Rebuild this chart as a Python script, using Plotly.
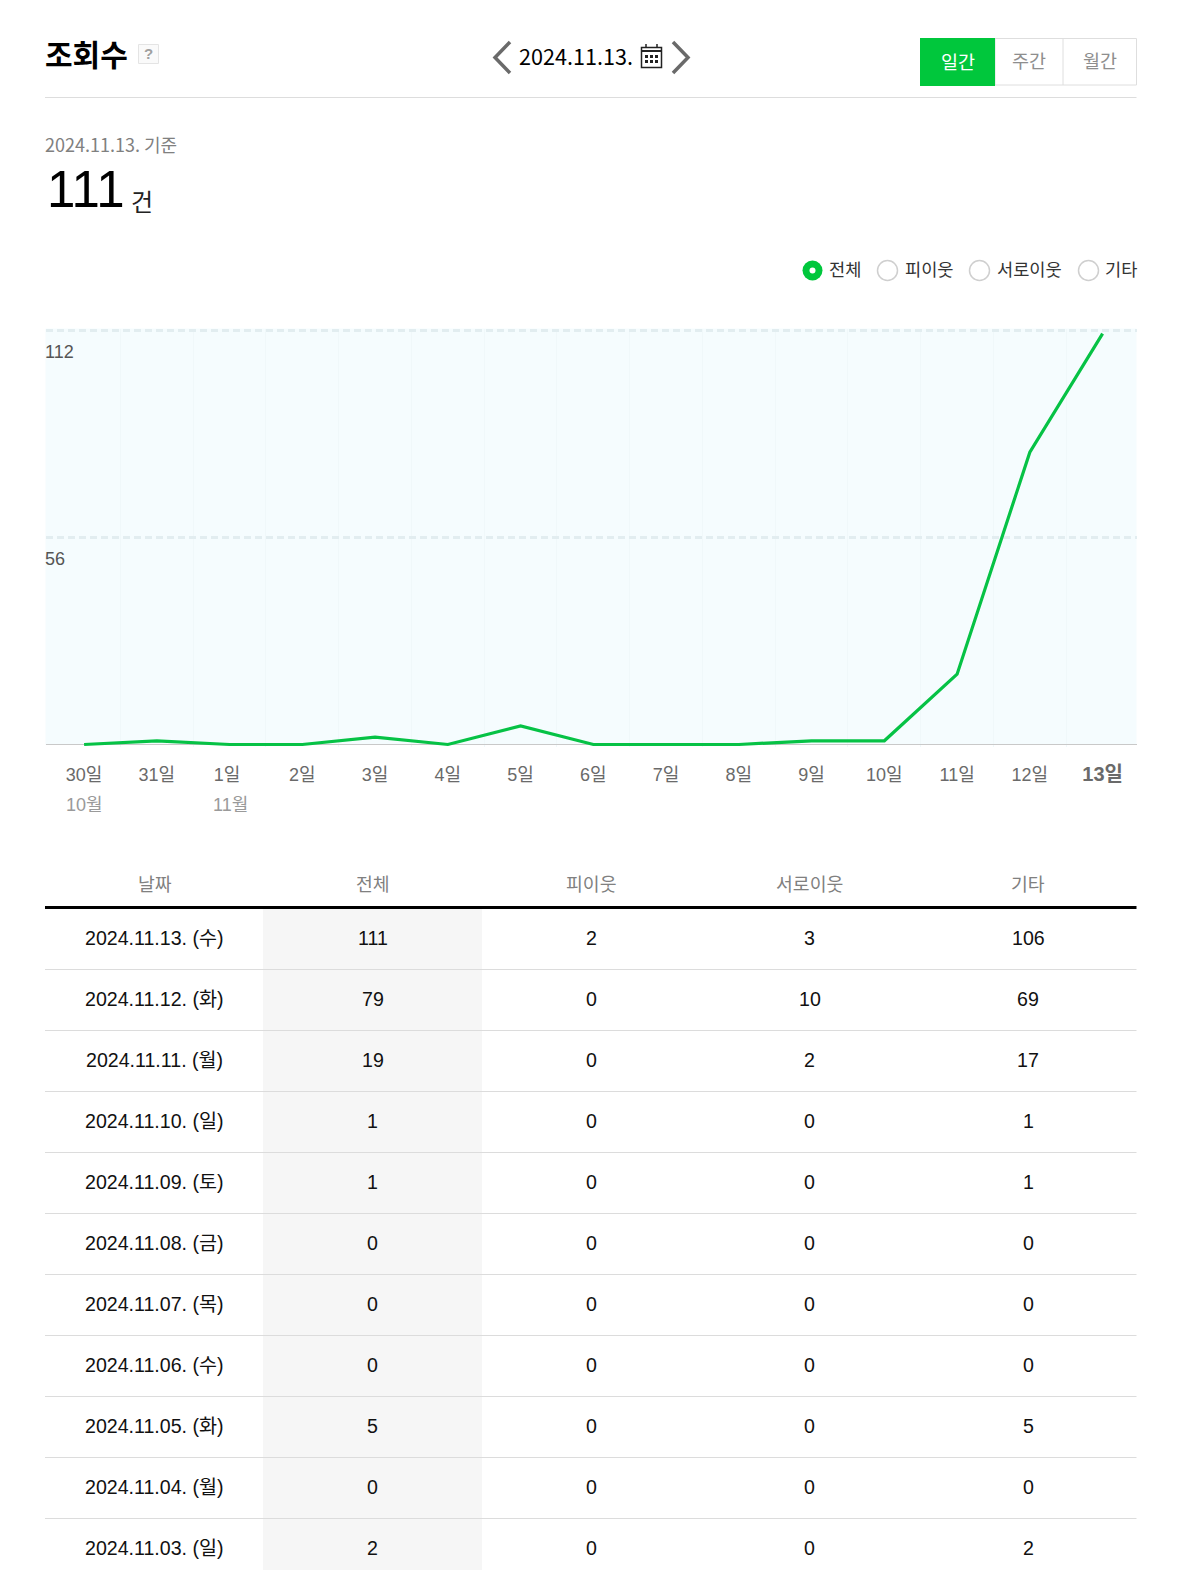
import plotly.graph_objects as go

W, H = 1189, 1570
SANS = "Liberation Sans, Noto Sans CJK KR, sans-serif"
CJK = "Noto Sans CJK KR, Liberation Sans, sans-serif"
GREEN = "#00c73c"

# ---- chart data
day_labels = ["30일", "31일", "1일\u00a0", "2일", "3일", "4일", "5일", "6일", "7일", "8일", "9일", "10일", "11일", "12일",
              "<span style='font-size:20px'><b>13일</b></span>"]
month_labels = {0: "10월", 2: "11월"}
views = [0, 1, 0, 0, 2, 0, 5, 0, 0, 0, 1, 1, 19, 79, 111]
y_ticks = [56, 112]

# ---- table data
table_header = ["날짜", "전체", "피이웃", "서로이웃", "기타"]
table_dates = ["2024.11.13. (수)", "2024.11.12. (화)", "2024.11.11. (월)", "2024.11.10. (일)", "2024.11.09. (토)",
               "2024.11.08. (금)", "2024.11.07. (목)", "2024.11.06. (수)", "2024.11.05. (화)", "2024.11.04. (월)", "2024.11.03. (일)"]
table_total = [111, 79, 19, 1, 1, 0, 0, 0, 5, 0, 2]
table_neighbor = [2, 0, 0, 0, 0, 0, 0, 0, 0, 0, 0]
table_mutual = [3, 10, 2, 0, 0, 0, 0, 0, 0, 0, 0]
table_other = [106, 69, 17, 1, 1, 0, 0, 0, 5, 0, 2]

def X(x): return x / W
def Y(y): return 1 - y / H

annots, shapes = [], []

def text(x, y, s, size, color="#000", family=CJK, anchor="center"):
    annots.append(dict(x=X(x), y=Y(y), xref="paper", yref="paper", text=s, showarrow=False,
                       xanchor=anchor, yanchor="middle", font=dict(size=size, color=color, family=family)))

def line(x0, y0, x1, y1, color, width):
    shapes.append(dict(type="line", xref="paper", yref="paper", x0=X(x0), y0=Y(y0), x1=X(x1), y1=Y(y1),
                       line=dict(color=color, width=width)))

def rect(x0, y0, x1, y1, fill=None, border=None, width=1, layer="above"):
    shapes.append(dict(type="rect", xref="paper", yref="paper", x0=X(x0), y0=Y(y0), x1=X(x1), y1=Y(y1),
                       fillcolor=fill or "rgba(0,0,0,0)", layer=layer,
                       line=dict(color=border or "rgba(0,0,0,0)", width=width if border else 0)))

def circle(cx, cy, r, fill=None, border=None, width=1.5):
    shapes.append(dict(type="circle", xref="paper", yref="paper", x0=X(cx - r), y0=Y(cy - r), x1=X(cx + r), y1=Y(cy + r),
                       fillcolor=fill or "rgba(0,0,0,0)", line=dict(color=border or "rgba(0,0,0,0)", width=width if border else 0)))

def poly(points, color, width):
    path = "M " + " L ".join(f"{X(a):.5f} {Y(b):.5f}" for a, b in points)
    shapes.append(dict(type="path", xref="paper", yref="paper", path=path, line=dict(color=color, width=width)))

# ---- header
text(43, 53, "<b>조회수</b>", 30, anchor="left")
rect(138.5, 44.5, 158.5, 63.5, fill="#fafafa", border="#e4e4e4")
text(148.5, 54, "<b>?</b>", 15, "#a0a0a0", SANS)
poly([(510, 42), (495, 57.5), (510, 73)], "#6a6a6a", 3.5)
poly([(673, 42), (688, 57.5), (673, 73)], "#6a6a6a", 3.5)
text(576, 55.5, "2024.11.13.", 21.6, "#000")
# calendar icon
rect(641.5, 47.5, 661.5, 67.5, border="#222", width=1.5)
line(641.5, 51, 661.5, 51, "#222", 2)
line(646, 44, 646, 47, "#222", 1.5)
line(657, 44, 657, 47, "#222", 1.5)
for gx in (645, 650, 655):
    for gy in (55, 60):
        rect(gx, gy, gx + 3, gy + 3, fill="#222")
rect(995, 38.5, 1136.5, 85, border="#dedede")
line(1063, 38.5, 1063, 85, "#dedede", 1)
rect(920, 38, 995, 86, fill=GREEN)
text(957.5, 60.5, "일간", 18.5, "#fff")
text(1029, 60, "주간", 18.5, "#8e8e8e")
text(1100, 60, "월간", 18.5, "#8e8e8e")
line(45, 97.5, 1136.5, 97.5, "#dddddd", 1)

# ---- summary
text(43, 144, "2024.11.13. 기준", 18, "#808080", anchor="left")
text(45, 190, "111", 51, "#000", SANS, anchor="left")
text(129, 201, "건", 24, "#222", anchor="left")

# ---- radios
circle(812.5, 270.5, 10, fill=GREEN)
circle(812.5, 270.5, 3, fill="#fff")
text(827, 269, "전체", 17.6, "#333", anchor="left")
for cx, tx, s in [(887.5, 902.5, "피이웃"), (979.5, 994.5, "서로이웃"), (1088.5, 1103, "기타")]:
    circle(cx, 270.5, 10, fill="#fff", border="#cfcfcf")
    text(tx, 269, s, 17.6, "#333", anchor="left")

# ---- month labels under the axis
for i, s in month_labels.items():
    tx = 84 + 72.7 * i
    text(tx if i == 0 else tx - 18.5, 805, s, 18, "#9a9a9a", SANS, anchor="center" if i == 0 else "left")

# ---- table
rect(263, 908, 482, H, fill="#f6f6f6", layer="below")
col_x = [154.5, 372.5, 591, 809.5, 1028]
for cx, s in zip(col_x, table_header):
    text(cx, 883, s, 18.3, "#808080")
line(45, 907.5, 1136.5, 907.5, "#000", 3)
for r, d in enumerate(table_dates):
    cy = 937.5 + 61 * r
    row = [d, table_total[r], table_neighbor[r], table_mutual[r], table_other[r]]
    for cx, v in zip(col_x, row):
        text(cx, cy, str(v), 19.6, "#111", SANS)
    if r < len(table_dates) - 1:
        line(45, 969.5 + 61 * r, 1136.5, 969.5 + 61 * r, "#dcdcdc", 1)

# ---- value-axis labels sit just under their gridlines, at the plot's left edge
for v in y_ticks:
    annots.append(dict(x=X(43), y=v, xref="paper", yref="y", text=str(v), showarrow=False, yshift=-22,
                       xanchor="left", yanchor="middle", font=dict(size=18, color="#555", family=SANS)))

# the plot runs 2px under zero so the series is not clipped; mask that strip
rect(45, 744.9, 1137, 748, fill="#ffffff", layer="between")

fig = go.Figure(go.Scatter(
    x=list(range(len(views))), y=views, mode="lines",
    line=dict(color="#06c245", width=3.2), hoverinfo="skip", showlegend=False))

fig.update_layout(
    width=W, height=H, margin=dict(l=0, r=0, t=0, b=0),
    paper_bgcolor="#ffffff", plot_bgcolor="#f5fcfe",
    annotations=annots, shapes=shapes, showlegend=False,
    xaxis=dict(domain=[X(45.5), X(1136.5)], range=[-0.5306, 14.466], tickmode="array",
               tickvals=list(range(len(views))), ticktext=day_labels, showgrid=False, zeroline=False,
               showline=False, ticks="", ticklabelstandoff=15,
               tickfont=dict(size=18, color="#6a6a6a", family=SANS),
               minor=dict(tickmode="array", tickvals=[i + 0.5 for i in range(len(views) - 1)],
                          showgrid=True, gridcolor="#f0f8fa", gridwidth=1, ticks="")),
    yaxis=dict(domain=[Y(746.72), Y(328.52)], range=[-0.6, 112.4], tickmode="array",
               tickvals=y_ticks, ticktext=["", ""],
               showgrid=True, gridcolor="#e2edf0", griddash="7px,4px", gridwidth=2.5,
               zeroline=True, zerolinecolor="#c9c9c9", zerolinewidth=1,
               showline=False, ticks=""),
)
fig.write_html("out.html", post_script="document.body.style.margin='0';", config=dict(displayModeBar=False))
